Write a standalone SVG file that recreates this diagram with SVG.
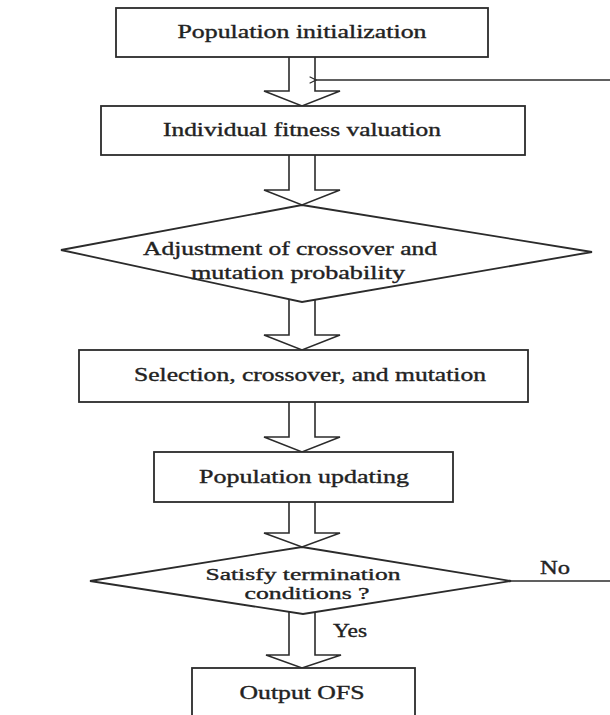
<svg xmlns="http://www.w3.org/2000/svg" width="610" height="715" viewBox="0 0 610 715">
  <defs>
    <style>
      .box { fill: #fff; stroke: #2b2b2b; stroke-width: 1.8; }
      .flow { fill: #fff; stroke: #2b2b2b; stroke-width: 1.6; stroke-linejoin: miter; }
      .line { fill: none; stroke: #2b2b2b; stroke-width: 1.5; }
      text { font-family: "Liberation Serif", "Times New Roman", serif; font-size: 18px; fill: #222; stroke: #222; stroke-width: 0.35; text-anchor: middle; }
      .small { font-size: 16.5px; }
    </style>
    <marker id="open-tip" viewBox="0 0 10 10" refX="1" refY="5" markerWidth="8" markerHeight="8" markerUnits="userSpaceOnUse" orient="auto-start-reverse">
      <path d="M9,1 L1,5 L9,9" fill="none" stroke="#2b2b2b" stroke-width="1.4"/>
    </marker>
  </defs>

  <!-- hollow block arrows between steps, and the loop-back lines -->
  <g id="connectors">
    <path class="flow" d="M289,57 V91 H264 L302,106 L340,91 H315 V57"/>
    <path class="flow" d="M289,155 V190 H264 L302,205 L340,190 H315 V155"/>
    <path class="flow" d="M289,296 V335 H264 L302,350 L340,335 H315 V296"/>
    <path class="flow" d="M289,402 V437 H264 L302,452 L340,437 H315 V402"/>
    <path class="flow" d="M289,502 V533 H264 L302,547 L340,533 H315 V502"/>
    <path class="flow" d="M289,609 V655 H266 L302,668 L341,655 H315 V609"/>
    <path class="line" d="M610,80 H316" marker-end="url(#open-tip)"/>
    <path class="line" d="M511,581 H610"/>
  </g>

  <g id="n-init">
    <rect class="box" x="116" y="8" width="372" height="49"/>
    <text x="302" y="38" textLength="249" lengthAdjust="spacingAndGlyphs">Population initialization</text>
  </g>

  <g id="n-fitness">
    <rect class="box" x="101" y="106" width="424" height="49"/>
    <text x="302" y="136" textLength="278" lengthAdjust="spacingAndGlyphs">Individual fitness valuation</text>
  </g>

  <g id="n-adjust">
    <polygon class="box" points="302,205 592,252 302,302 61,250"/>
    <text x="290" y="255" textLength="294" lengthAdjust="spacingAndGlyphs">Adjustment of crossover and</text>
    <text x="298" y="279" textLength="214" lengthAdjust="spacingAndGlyphs">mutation probability</text>
  </g>

  <g id="n-operators">
    <rect class="box" x="79" y="350" width="449" height="52"/>
    <text x="310" y="381" textLength="352" lengthAdjust="spacingAndGlyphs">Selection, crossover, and mutation</text>
  </g>

  <g id="n-update">
    <rect class="box" x="154" y="452" width="299" height="50"/>
    <text x="304" y="483" textLength="210" lengthAdjust="spacingAndGlyphs">Population updating</text>
  </g>

  <g id="n-check">
    <polygon class="box" points="302,547 511,581 303,614 90,581"/>
    <text class="small" x="303" y="580" textLength="195" lengthAdjust="spacingAndGlyphs">Satisfy termination</text>
    <text class="small" x="307" y="599" textLength="125" lengthAdjust="spacingAndGlyphs">conditions ?</text>
    <text x="555" y="574" textLength="30" lengthAdjust="spacingAndGlyphs">No</text>
    <text x="350" y="637" textLength="34" lengthAdjust="spacingAndGlyphs">Yes</text>
  </g>

  <g id="n-output">
    <rect class="box" x="192" y="668" width="223" height="60"/>
    <text x="302" y="699" textLength="125" lengthAdjust="spacingAndGlyphs">Output OFS</text>
  </g>
</svg>
